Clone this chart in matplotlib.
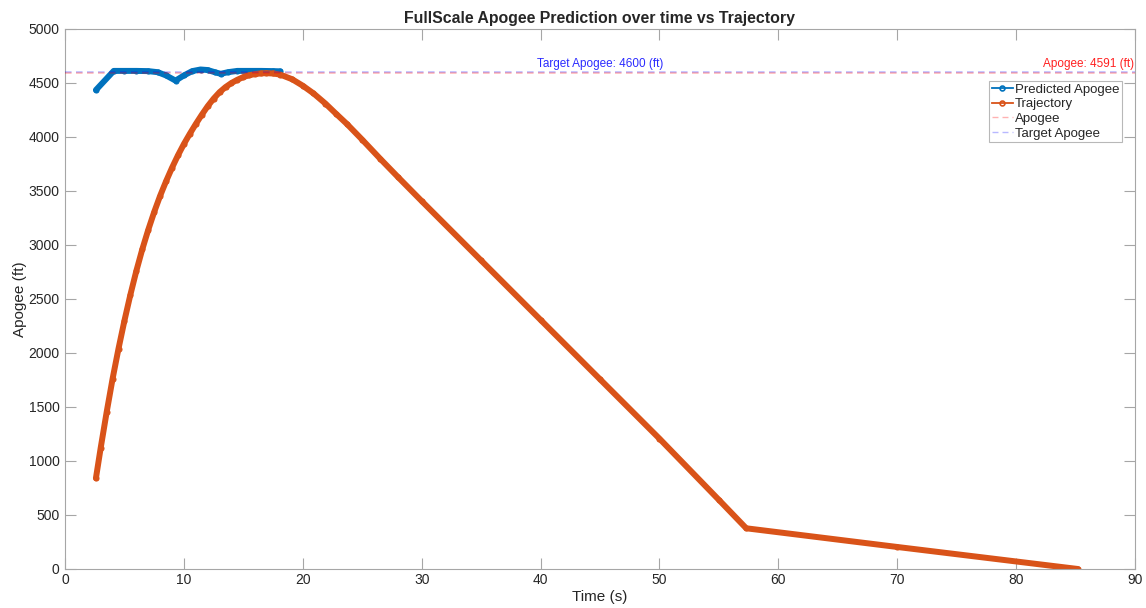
import matplotlib
matplotlib.use("Agg")
import matplotlib.pyplot as plt
from matplotlib.lines import Line2D

plt.rcParams['font.family'] = ['Liberation Sans', 'DejaVu Sans']

# Predicted apogee during the flight (time in s, apogee in ft)
pred_time = [2.6, 4.1, 5.0, 6.0, 7.0, 7.8, 8.5, 9.3, 10.0, 10.7, 11.4, 12.0,
             12.6, 13.1, 13.7, 14.5, 15.5, 16.5, 17.5, 18.1]
pred_apogee = [4435, 4612, 4612, 4612, 4610, 4600, 4570, 4522, 4570, 4610,
               4625, 4620, 4600, 4585, 4600, 4612, 4612, 4612, 4610, 4608]

# Measured altitude trajectory
traj_time = [2.6, 3.0, 3.5, 4.0, 4.5, 5.0, 5.5, 6.0, 6.5, 7.0, 7.5, 8.0,
             8.5, 9.0, 9.5, 10.0, 10.5, 11.0, 11.5, 12.0, 12.5, 13.0, 13.5,
             14.0, 14.5, 15.0, 15.5, 16.0, 16.5, 16.9, 17.5, 18.1, 19.1,
             20.0, 20.9, 21.9, 22.8, 23.7, 25.0, 26.5, 28.0, 30.0, 35.0,
             40.0, 45.0, 50.0, 55.0, 57.3, 70.0, 85.2]
traj_alt = [840, 1120, 1450, 1760, 2040, 2300, 2540, 2760, 2960, 3140, 3305,
            3455, 3590, 3715, 3830, 3935, 4030, 4120, 4205, 4285, 4355, 4415,
            4462, 4500, 4530, 4555, 4572, 4583, 4589, 4591, 4588, 4578, 4535,
            4475, 4404, 4310, 4215, 4122, 3975, 3800, 3630, 3407, 2857,
            2307, 1757, 1207, 640, 377, 204, 0]

apogee = 4591
target_apogee = 4600

blue = '#0072BD'
orange = '#D95319'
txt = '#262626'
axc = '#a6a6a6'
apogee_line = (1.0, 0.0, 0.0, 0.3)
target_line = (0.0, 0.0, 1.0, 0.28)
dash = (0, (4.3, 2.9))

fig = plt.figure(figsize=(11.46, 6.08), dpi=100)
ax = fig.add_axes([65 / 1146, 39 / 608, 1070 / 1146, 540 / 608])

ax.plot(pred_time, pred_apogee, '-o', color=blue, lw=4.3, ms=3.6, mew=0.8,
        mec=blue, mfc=blue, solid_joinstyle='round', solid_capstyle='round')
ax.plot(traj_time, traj_alt, '-o', color=orange, lw=4.3, ms=3.6, mew=0.8,
        mec=orange, mfc=orange, solid_joinstyle='round', solid_capstyle='round')

ax.axhline(target_apogee, color=target_line, lw=1.1, ls=dash, zorder=3)
ax.axhline(apogee, color=apogee_line, lw=1.1, ls=dash, zorder=3)

ax.text(45, target_apogee + 25, f'Target Apogee: {target_apogee} (ft)',
        color='#2b2bff', fontsize=8.5, ha='center', va='bottom')
ax.text(89.9, apogee + 25, f'Apogee: {apogee} (ft)',
        color='#ff2020', fontsize=8.5, ha='right', va='bottom')

ax.set_xlim(0, 90)
ax.set_ylim(0, 5000)
ax.set_xticks(range(0, 91, 10))
ax.set_yticks(range(0, 5001, 500))

for s in ax.spines.values():
    s.set_color(axc)
    s.set_linewidth(0.8)
ax.tick_params(direction='in', length=8, width=0.8, color=axc,
               labelcolor=txt, labelsize=10, top=True, right=True)
ax.tick_params(axis='x', pad=3)
ax.tick_params(axis='y', pad=4)

ax.set_xlabel('Time (s)', fontsize=11, color=txt, labelpad=2)
ax.set_ylabel('Apogee (ft)', fontsize=11, color=txt, labelpad=1)
ax.set_title('FullScale Apogee Prediction over time vs Trajectory',
             fontsize=11.4, fontweight='bold', color=txt, pad=4)

handles = [
    Line2D([], [], color=blue, lw=1.3, marker='o', ms=3.5, mfc='none', mew=1.2),
    Line2D([], [], color=orange, lw=1.3, marker='o', ms=3.5, mfc='none', mew=1.2),
    Line2D([], [], color=apogee_line, lw=1.0, ls=dash),
    Line2D([], [], color=target_line, lw=1.0, ls=dash),
]
labels = ['Predicted Apogee', 'Trajectory', 'Apogee', 'Target Apogee']
leg = ax.legend(handles, labels, loc='upper right',
                bbox_to_anchor=(0.988, 0.904), fontsize=9.5, frameon=True,
                fancybox=False, borderpad=0.2, labelspacing=0.18,
                handlelength=1.6, handletextpad=0.15, borderaxespad=0)
leg.get_frame().set_edgecolor(axc)
leg.get_frame().set_linewidth(0.8)
for t in leg.get_texts():
    t.set_color(txt)

fig.savefig('out.png', dpi=100)
